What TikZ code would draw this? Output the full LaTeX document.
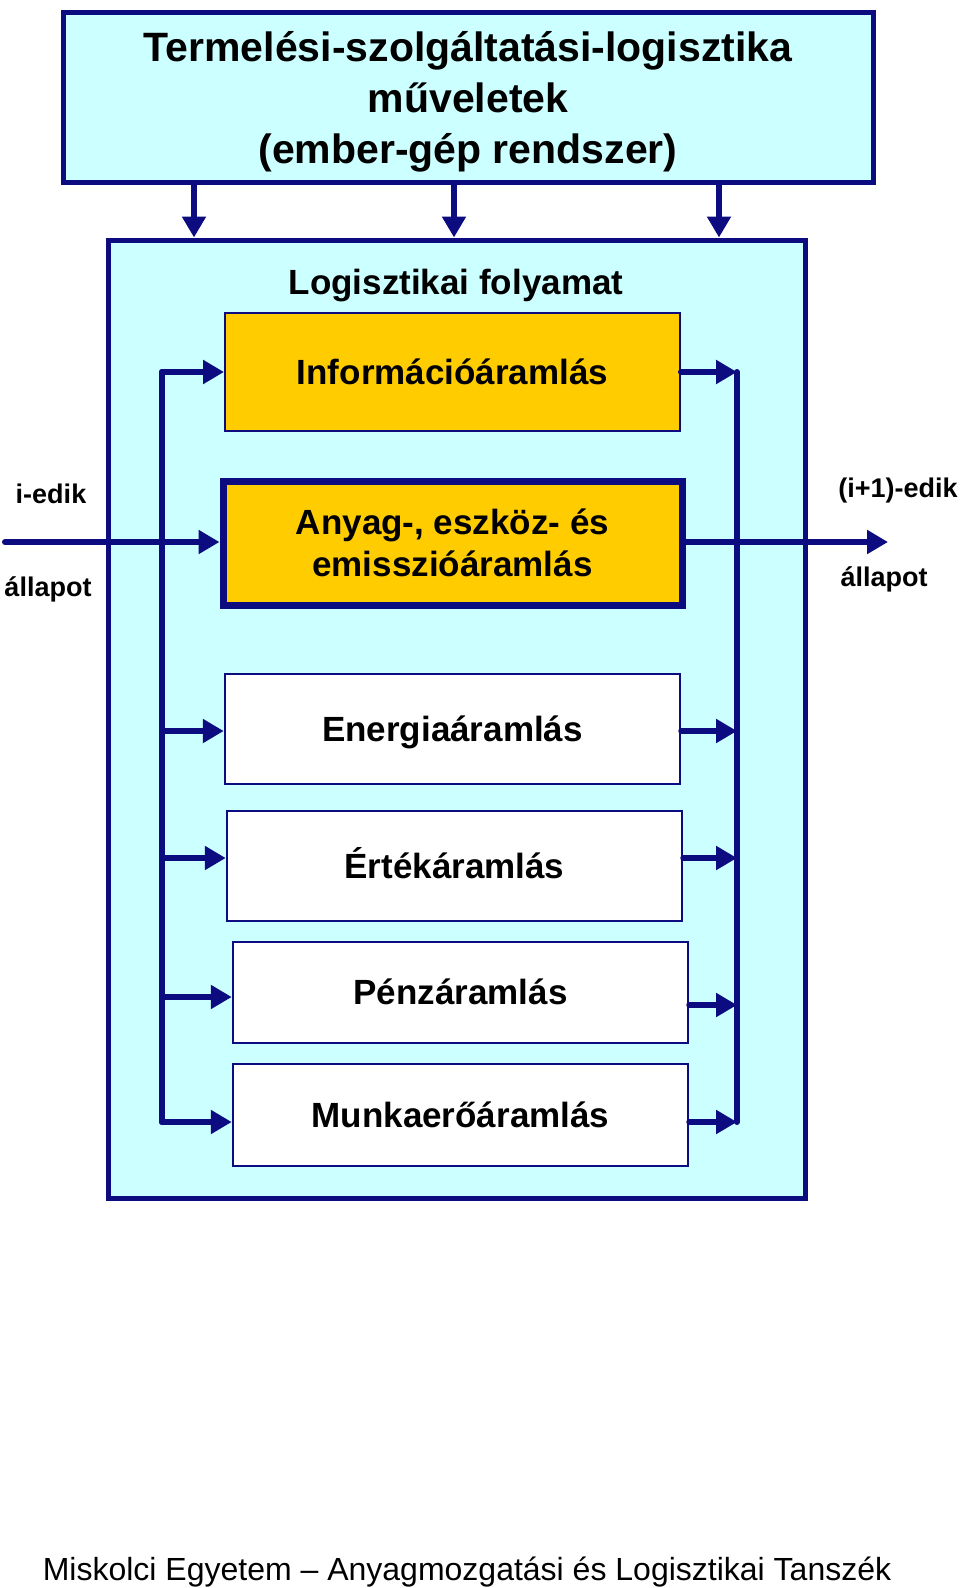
\documentclass[tikz,border=0pt]{standalone}
\usepackage{fontspec}
\setmainfont{Liberation Sans}
\usepackage{xcolor}
\usetikzlibrary{shapes, positioning, arrows.meta}
\definecolor{navy}{RGB}{12,12,128}
\definecolor{lightcyan}{RGB}{204,255,255}
\definecolor{gold}{RGB}{255,204,0}

\begin{document}
\begin{tikzpicture}[x=1pt,y=-1pt]
\tikzstyle{blok}=[rectangle, draw=navy, inner sep=0pt, align=center, font=\fontsize{35}{42}\selectfont\bfseries]
\tikzstyle{sor}=[blok, fill=white, line width=2.5pt, minimum width=455pt, text height=29pt, text depth=5pt]
\tikzstyle{flow}=[draw=navy, line width=6pt, line cap=round, -{Triangle[length=21pt,width=23pt]}]
\tikzstyle{bus}=[draw=navy, line width=6pt, line cap=round]
\tikzstyle{lab}=[inner sep=0pt, align=center, font=\fontsize{27}{32}\selectfont\bfseries]
\useasboundingbox (0,0) rectangle (960,1588);
\node[blok, fill=lightcyan, line width=5pt, minimum width=810pt, minimum height=170pt] (top) at (468,97) {};
\node[lab, font=\fontsize{41}{51}\selectfont\bfseries] (fejlec) at (468,102) {Termelési-szolgáltatási-logisztika\\műveletek\\(ember-gép rendszer)};
\node[blok, fill=lightcyan, line width=5pt, minimum width=697pt, minimum height=958pt] (proc) at (456.5,719) {};
\node[lab, font=\fontsize{35}{42}\selectfont\bfseries] (cim) at (456,286) {Logisztikai folyamat};
\node[blok, fill=gold, line width=2pt, minimum width=455pt, minimum height=118pt, text height=29pt, text depth=5pt] (info) at (452.5,372) {Információáramlás};
\node[blok, fill=gold, line width=7pt, minimum width=459pt, minimum height=124pt] (anyag) at (452.5,543) {Anyag-, eszköz- és\\emisszióáramlás};
\node[sor, minimum height=110pt] (energia) at (452.5,729) {Energiaáramlás};
\node[sor, minimum height=110pt] (ertek) at (454.5,866) {Értékáramlás};
\node[sor, minimum height=101pt] (penz) at (460.5,992.5) {Pénzáramlás};
\node[sor, minimum height=102pt] (munka) at (460.5,1115) {Munkaerőáramlás};
\node[lab] (ibe) at (51,494) {i-edik};
\node[lab] (iall) at (48,589) {állapot};
\node[lab] (ki) at (898,491) {(i+1)-edik};
\node[lab] (kall) at (884,579) {állapot};
\node[inner sep=0pt, font=\fontsize{32}{38}\selectfont] (labj) at (467,1572) {Miskolci Egyetem – Anyagmozgatási és Logisztikai Tanszék};
\coordinate (lt) at (162,372);
\coordinate (lb) at (162,1122);
\coordinate (rt) at (737,372);
\coordinate (rb) at (737,1122);
\coordinate (be) at (5,542);
\coordinate (kimenet) at (888,542);
\draw[flow] (top.south -| 194,0) -- (proc.north -| 194,0);
\draw[flow] (top.south -| 454,0) -- (proc.north -| 454,0);
\draw[flow] (top.south -| 719,0) -- (proc.north -| 719,0);
\draw[bus] (lt) -- (lb);
\draw[bus] (rt) -- (rb);
\draw[flow] (be) -- (anyag.west |- be);
\draw[flow] (anyag.east |- kimenet) -- (kimenet);
\draw[flow] (lt) -- (info.west |- lt);
\draw[flow] (lt |- 0,731) -- (energia.west |- 0,731);
\draw[flow] (lt |- 0,858) -- (ertek.west |- 0,858);
\draw[flow] (lt |- 0,997) -- (penz.west |- 0,997);
\draw[flow] (lb) -- (munka.west |- lb);
\draw[flow] (info.east |- rt) -- (rt);
\draw[flow] (energia.east |- 0,731) -- (rt |- 0,731);
\draw[flow] (ertek.east |- 0,858) -- (rt |- 0,858);
\draw[flow] (penz.east |- 0,1005) -- (rt |- 0,1005);
\draw[flow] (munka.east |- rb) -- (rb);
\end{tikzpicture}
\end{document}
